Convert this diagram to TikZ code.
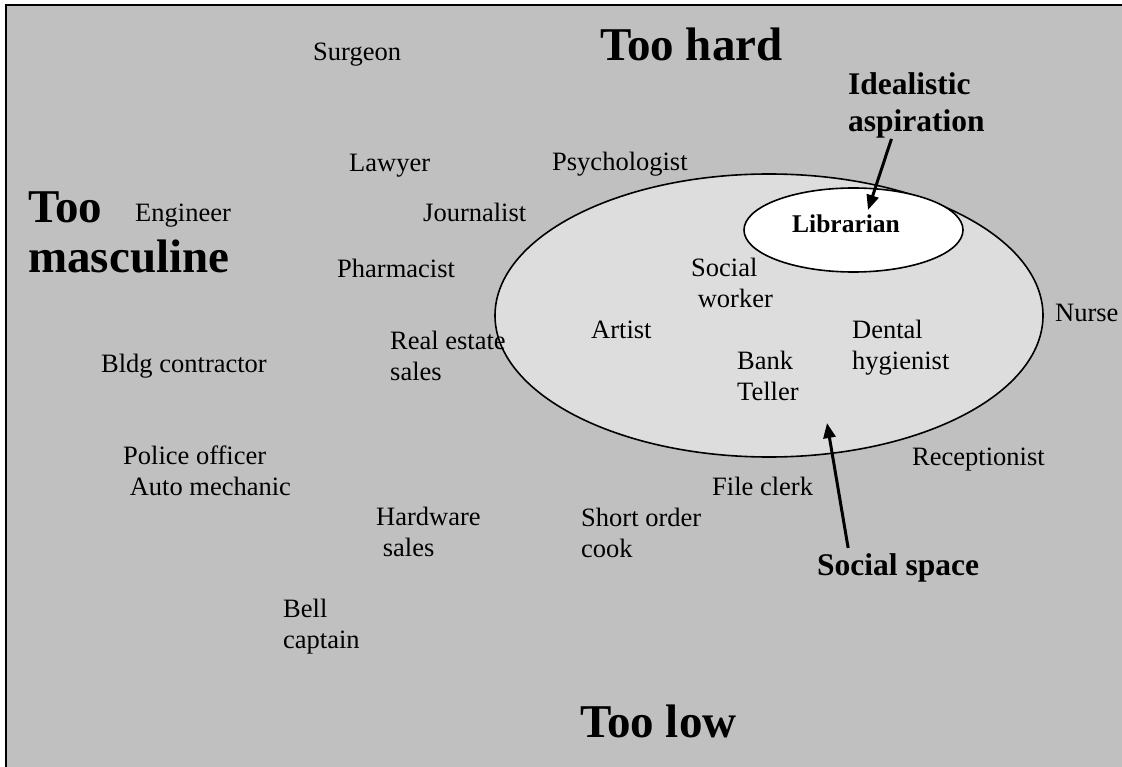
\documentclass[tikz,border=0pt]{standalone}
\usepackage{fontspec}
\setmainfont{Liberation Serif}
\usetikzlibrary{shapes.geometric,arrows.meta}
\definecolor{backgray}{RGB}{192,192,192}
\definecolor{spacegray}{RGB}{221,221,221}
\tikzset{
	job/.style={anchor=base west,inner sep=0pt,align=left,font=\fontsize{26.5}{31}\selectfont},
	bound/.style={anchor=base west,inner sep=0pt,align=left,font=\fontsize{47}{51}\selectfont\bfseries},
	callout/.style={anchor=base west,inner sep=0pt,align=left,font=\fontsize{31.5}{37}\selectfont\bfseries},
	pointer/.style={-{Triangle[length=15pt,width=12pt]},line width=3pt},
	oval/.style={ellipse,draw,line width=1.6pt,inner sep=0pt}
}
\begin{document}
\begin{tikzpicture}[x=1pt,y=-1pt]
	\useasboundingbox (0,0) rectangle (1122,767);
	\clip (0,0) rectangle (1122,767);
	\draw[line width=2pt,fill=backgray] (6,5) rectangle (1140,785);

	\node[oval,fill=spacegray,minimum width=548pt,minimum height=283pt] (space) at (769,315.5) {};
	\node[oval,fill=white,minimum width=219pt,minimum height=84pt] (libr) at (853.5,230) {};

	\node[bound] (toohard) at (600,61) {Too hard};
	\node[bound] (toomasc) at (28,273) {Too\\masculine};
	\node[bound] (toolow) at (580,737) {Too low};
	\node[callout] (ideal) at (848,132) {Idealistic\\aspiration};
	\node[callout] (socspace) at (817,575) {Social space};
	\node[anchor=base west,inner sep=0pt,font=\fontsize{25.5}{30}\selectfont\bfseries] (librarian) at (792,233) {Librarian};

	\node[job] (surgeon) at (313,61) {Surgeon};
	\node[job] (lawyer) at (349,172) {Lawyer};
	\node[job] (psych) at (552,171) {Psychologist};
	\node[job] (engineer) at (135,222) {Engineer};
	\node[job] (journalist) at (423,222) {Journalist};
	\node[job] (pharmacist) at (337,278) {Pharmacist};
	\node[job] (socialworker) at (691,308) {Social\\\hspace*{0.25em}worker};
	\node[job] (nurse) at (1055,322) {Nurse};
	\node[job] (artist) at (591,339) {Artist};
	\node[job] (realestate) at (390,380) {Real estate\\sales};
	\node[job] (dental) at (852,370) {Dental\\hygienist};
	\node[job] (bldg) at (101,372) {Bldg contractor};
	\node[job] (bank) at (737,400) {Bank\\Teller};
	\node[job] (police) at (123,495) {Police officer\\\hspace*{0.25em}Auto mechanic};
	\node[job] (receptionist) at (912,465) {Receptionist};
	\node[job] (fileclerk) at (712,495) {File clerk};
	\node[job] (hardware) at (376,556) {Hardware\\\hspace*{0.25em}sales};
	\node[job] (shortorder) at (581,557) {Short order\\cook};
	\node[job] (bell) at (283,648) {Bell\\captain};

	\coordinate (ideal tip) at (868,210);
	\coordinate (space tip) at (827,423);
	\draw[pointer] ([xshift=-25pt]ideal.south) -- (ideal tip);
	\draw[pointer] ([xshift=-50pt,yshift=5pt]socspace.north) -- (space tip);
\end{tikzpicture}
\end{document}
